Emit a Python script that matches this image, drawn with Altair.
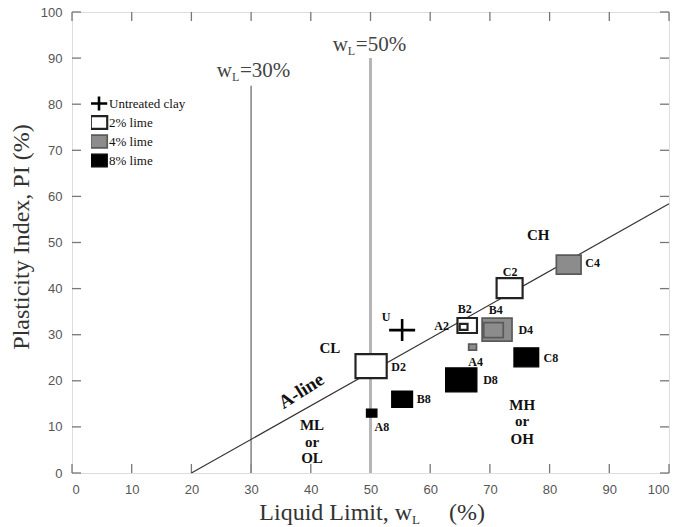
import altair as alt
import pandas as pd

# ---------------- data ----------------
treatments = ["Untreated clay", "2% lime", "4% lime", "8% lime"]

sample_ids = ["U", "B2", "A2", "C2", "D2", "A4", "D4", "B4", "C4", "A8", "B8", "C8", "D8"]
sample_treat = ["Untreated clay", "2% lime", "2% lime", "2% lime", "2% lime",
                "4% lime", "4% lime", "4% lime", "4% lime",
                "8% lime", "8% lime", "8% lime", "8% lime"]
liquid_limit = [55.3, 66.2, 65.6, 73.3, 50.1, 67.1, 71.2, 70.6, 83.2, 50.2, 55.3, 76.1, 65.2]
plasticity_index = [31.0, 32.0, 31.7, 40.1, 23.2, 27.3, 31.1, 31.0, 45.2, 13.0, 16.0, 25.1, 20.2]
marker_side = [20, 15, 6, 20, 24, 6, 23, 15, 19, 8, 16, 19, 24]

label_text = ["U", "A2", "B2", "C2", "D2", "A4", "B4", "C4", "D4", "A8", "B8", "C8", "D8"]
label_ll = [52.6, 61.9, 65.8, 73.4, 54.7, 67.6, 71.0, 87.2, 76.0, 51.9, 58.9, 80.2, 70.1]
label_pi = [33.8, 31.8, 35.6, 43.6, 23.0, 24.0, 35.4, 45.6, 31.0, 9.9, 16.1, 24.9, 20.2]

aline_ll = [20, 100]
aline_pi = [0, 58.4]

region_text = ["CH", "CL", "ML", "or", "OL", "MH", "or", "OH"]
region_ll = [78.1, 43.2, 40.2, 40.2, 40.2, 75.4, 75.4, 75.4]
region_pi = [51.6, 27.1, 10.4, 6.8, 3.3, 14.8, 11.2, 7.4]

ticks = list(range(0, 101, 10))

# ---------------- shared settings ----------------
W, H = 597, 461
TICK = 9
xs = alt.Scale(domain=[0, 100], nice=False, zero=False)
ys = alt.Scale(domain=[0, 100], nice=False, zero=False)
SERIF = "Liberation Serif"
SANS = "Liberation Sans"
FRAME = "#777777"

sq = "M-1.3,-1H1.3V1H-1.3Z"
cross = "M-1.3,0H1.3M0,-1.1V1.1"

XA = alt.Axis(orient="bottom", values=ticks, domain=False, grid=False, ticks=False,
              title=None, labelPadding=10, labelFont=SANS, labelFontSize=13,
              labelColor="#555555")
YA = alt.Axis(orient="left", values=ticks, domain=False, grid=False, ticks=False,
              title=None, labelPadding=10, labelFont=SANS, labelFontSize=13,
              labelColor="#555555")


def X(field):
    return alt.X(field, scale=xs, axis=XA)


def Y(field):
    return alt.Y(field, scale=ys, axis=YA)


pts = pd.DataFrame({
    "id": sample_ids, "treat": sample_treat, "LL": liquid_limit,
    "PI": plasticity_index, "side": marker_side,
})
pts["area"] = pts["side"] ** 2
pts["order"] = range(len(pts))

leg = alt.Legend(title=None, orient="none", legendX=19, legendY=84, symbolSize=160,
                 labelFont=SERIF, labelFontSize=13, labelColor="#111111",
                 rowPadding=4, clipHeight=15, symbolStrokeWidth=1.8, padding=0,
                 labelOffset=2)

points = alt.Chart(pts).mark_point(filled=True, opacity=1).encode(
    x=X("LL:Q"),
    y=Y("PI:Q"),
    shape=alt.Shape("treat:N", scale=alt.Scale(domain=treatments, range=[cross, sq, sq, sq]), legend=leg),
    fill=alt.Fill("treat:N", scale=alt.Scale(domain=treatments,
                  range=["transparent", "white", "#8c8c8c", "black"]), legend=leg),
    stroke=alt.Stroke("treat:N", scale=alt.Scale(domain=treatments,
                      range=["black", "#222222", "#5a5a5a", "black"]), legend=leg),
    strokeWidth=alt.StrokeWidth("treat:N", scale=alt.Scale(domain=treatments,
                                range=[2.6, 1.3, 1.3, 1.3]), legend=None),
    size=alt.Size("area:Q", scale=None),
    order=alt.Order("order:Q"),
)

# inward ticks on all four sides, placed through the scales
tdf = pd.DataFrame({"v": ticks})
tick_style = dict(color=FRAME, strokeWidth=1.3)
ticks_bottom = alt.Chart(tdf).mark_rule(**tick_style).encode(
    x=X("v:Q"), y=alt.value(H), y2=alt.value(H - TICK))
ticks_top = alt.Chart(tdf).mark_rule(**tick_style).encode(
    x=X("v:Q"), y=alt.value(0), y2=alt.value(TICK))
ticks_left = alt.Chart(tdf).mark_rule(**tick_style).encode(
    y=Y("v:Q"), x=alt.value(0), x2=alt.value(TICK))
ticks_right = alt.Chart(tdf).mark_rule(**tick_style).encode(
    y=Y("v:Q"), x=alt.value(W), x2=alt.value(W - TICK))

# A-line
aline = alt.Chart(pd.DataFrame({"LL": aline_ll, "PI": aline_pi})).mark_line(
    color="#333333", strokeWidth=1.2).encode(x=X("LL:Q"), y=Y("PI:Q"))

# vertical liquid-limit lines
wl30 = alt.Chart(pd.DataFrame({"LL": [30], "y0": [0], "y1": [84]})).mark_rule(
    color="#8a8a8a", strokeWidth=1.6).encode(x=X("LL:Q"), y=Y("y0:Q"), y2="y1:Q")
wl50 = alt.Chart(pd.DataFrame({"LL": [50], "y0": [0], "y1": [90]})).mark_rule(
    color="#b5b5b5", strokeWidth=3).encode(x=X("LL:Q"), y=Y("y0:Q"), y2="y1:Q")


def wl_label(ll, pi, rest):
    d = pd.DataFrame({"LL": [ll], "PI": [pi]})
    base = alt.Chart(d).encode(x=X("LL:Q"), y=Y("PI:Q"))
    w = base.mark_text(text="w", align="right", baseline="alphabetic", font=SERIF,
                       fontSize=21, color="#444444")
    sub = base.mark_text(text="L", align="left", baseline="alphabetic", dy=4, font=SERIF,
                         fontSize=12, color="#444444")
    r = base.mark_text(text=rest, align="left", baseline="alphabetic", dx=8, font=SERIF,
                       fontSize=21, color="#444444")
    return [w, sub, r]


lab30 = wl_label(26.8, 86.0, "=30%")
lab50 = wl_label(46.2, 91.6, "=50%")

# sample labels
labels = alt.Chart(pd.DataFrame({"t": label_text, "LL": label_ll, "PI": label_pi})).mark_text(
    font=SERIF, fontWeight="bold", fontSize=12, color="#111111").encode(
    x=X("LL:Q"), y=Y("PI:Q"), text="t:N")

regions = alt.Chart(pd.DataFrame({"t": region_text, "LL": region_ll, "PI": region_pi})).mark_text(
    font=SERIF, fontWeight="bold", fontSize=15, color="#111111").encode(
    x=X("LL:Q"), y=Y("PI:Q"), text="t:N")

aline_label = alt.Chart(pd.DataFrame({"t": ["A-line"], "LL": [38.4], "PI": [17.8]})).mark_text(
    font=SERIF, fontWeight="bold", fontSize=19, color="#111111", angle=328).encode(
    x=X("LL:Q"), y=Y("PI:Q"), text="t:N")

# axis titles (with subscript)
xt = alt.Chart(pd.DataFrame({"a": [0]}))
xtitle1 = xt.mark_text(text="Liquid Limit, w", align="right", baseline="alphabetic",
                       font=SERIF, fontSize=24, color="#333333").encode(
    x=alt.value(340), y=alt.value(508))
xtitle2 = xt.mark_text(text="L", align="left", baseline="alphabetic", dy=4,
                       font=SERIF, fontSize=13, color="#333333").encode(
    x=alt.value(340), y=alt.value(508))
xtitle3 = xt.mark_text(text="(%)", align="left", baseline="alphabetic",
                       font=SERIF, fontSize=24, color="#333333").encode(
    x=alt.value(377), y=alt.value(508))
ytitle = xt.mark_text(text="Plasticity Index, PI (%)", align="center", baseline="middle",
                      angle=270, font=SERIF, fontSize=24, color="#333333").encode(
    x=alt.value(-50), y=alt.value(225))

chart = alt.layer(
    ticks_bottom, ticks_top, ticks_left, ticks_right,
    wl30, wl50, aline, points, labels, regions, aline_label,
    *lab30, *lab50, xtitle1, xtitle2, xtitle3, ytitle,
).properties(
    width=W, height=H,
    autosize=alt.AutoSizeParams(type="none"),
    padding={"left": 72, "top": 12, "right": 15, "bottom": 54},
).configure_view(stroke=FRAME, strokeWidth=1.5).configure(background="white")

chart.save("out.html", embed_options={"renderer": "svg", "actions": False})
